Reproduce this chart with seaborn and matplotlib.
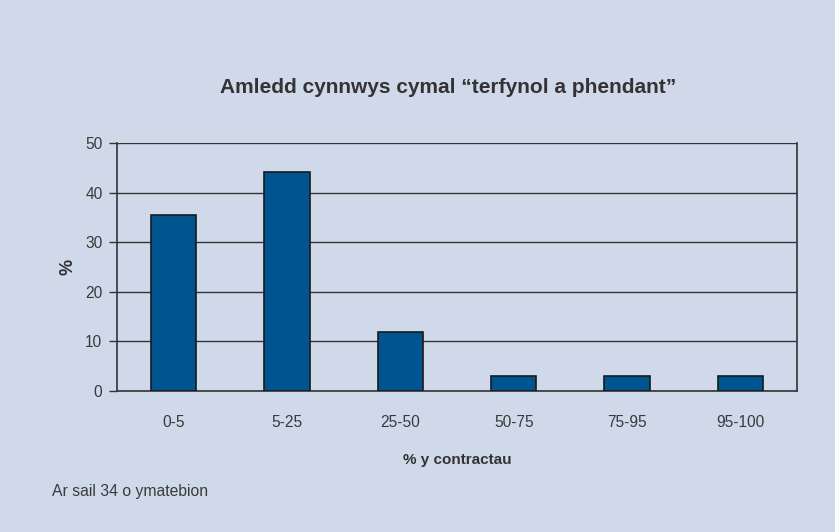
import matplotlib
matplotlib.use("Agg")
import matplotlib.pyplot as plt
import seaborn as sns
import pandas as pd
from matplotlib.ticker import FixedLocator

categories = ["0-5", "5-25", "25-50", "50-75", "75-95", "95-100"]
values = [35.5, 44.3, 11.9, 3.0, 3.0, 3.0]
yticks = [0, 10, 20, 30, 40, 50]

title = "Amledd cynnwys cymal \u201cterfynol a phendant\u201d"
xlabel = "% y contractau"
ylabel = "%"
footnote = "Ar sail 34 o ymatebion"

bg = "#d0d9ea"
bar_color = "#00548f"
ink = "#333333"
label_ink = "#3a3a3a"

sns.set_theme(style="white")
plt.rcParams["font.family"] = ["Liberation Sans", "DejaVu Sans"]

fig = plt.figure(figsize=(8.35, 5.32), dpi=100, facecolor=bg)
ax = fig.add_axes([0.1398, 0.265, 0.815, 0.4656])
ax.set_facecolor(bg)

df = pd.DataFrame({"cat": categories, "val": values})
sns.barplot(data=df, x="cat", y="val", color=bar_color, saturation=1,
            edgecolor="#1a1a1a", linewidth=1.2, width=0.4, ax=ax, zorder=3)

ax.set_xlim(-0.5, len(categories) - 0.5)
ax.set_ylim(0, 50)
ax.set_yticks(yticks)
ax.yaxis.grid(True, color=ink, linewidth=1.0)
ax.xaxis.grid(False)
ax.set_axisbelow(True)

for s in ["left", "bottom", "right"]:
    ax.spines[s].set_visible(True)
    ax.spines[s].set_color(ink)
    ax.spines[s].set_linewidth(1.2)
ax.spines["top"].set_visible(False)

ax.tick_params(axis="x", which="major", length=0, pad=17.5, labelsize=11.2, labelcolor=label_ink)
ax.xaxis.set_minor_locator(FixedLocator([i - 0.5 for i in range(len(categories) + 1)]))
ax.tick_params(axis="x", which="minor", length=6, width=1.2, color=ink, direction="out")
ax.tick_params(axis="y", length=5.8, width=1.0, color=ink, direction="out", pad=4.5,
               labelsize=11.2, labelcolor=label_ink, left=True)

ax.set_xlabel(xlabel, fontsize=11, fontweight="bold", color=ink, labelpad=16.5)
ax.set_ylabel(ylabel, fontsize=13, fontweight="bold", color=ink)
ax.yaxis.set_label_coords(-0.059, 0.5)

fig.text(0.537, 0.835, title, ha="center", va="center", fontsize=15,
         fontweight="bold", color=ink)
fig.text(0.062, 0.076, footnote, ha="left", va="center", fontsize=11.3, color=label_ink)

fig.savefig("out.png", dpi=100, facecolor=bg)
